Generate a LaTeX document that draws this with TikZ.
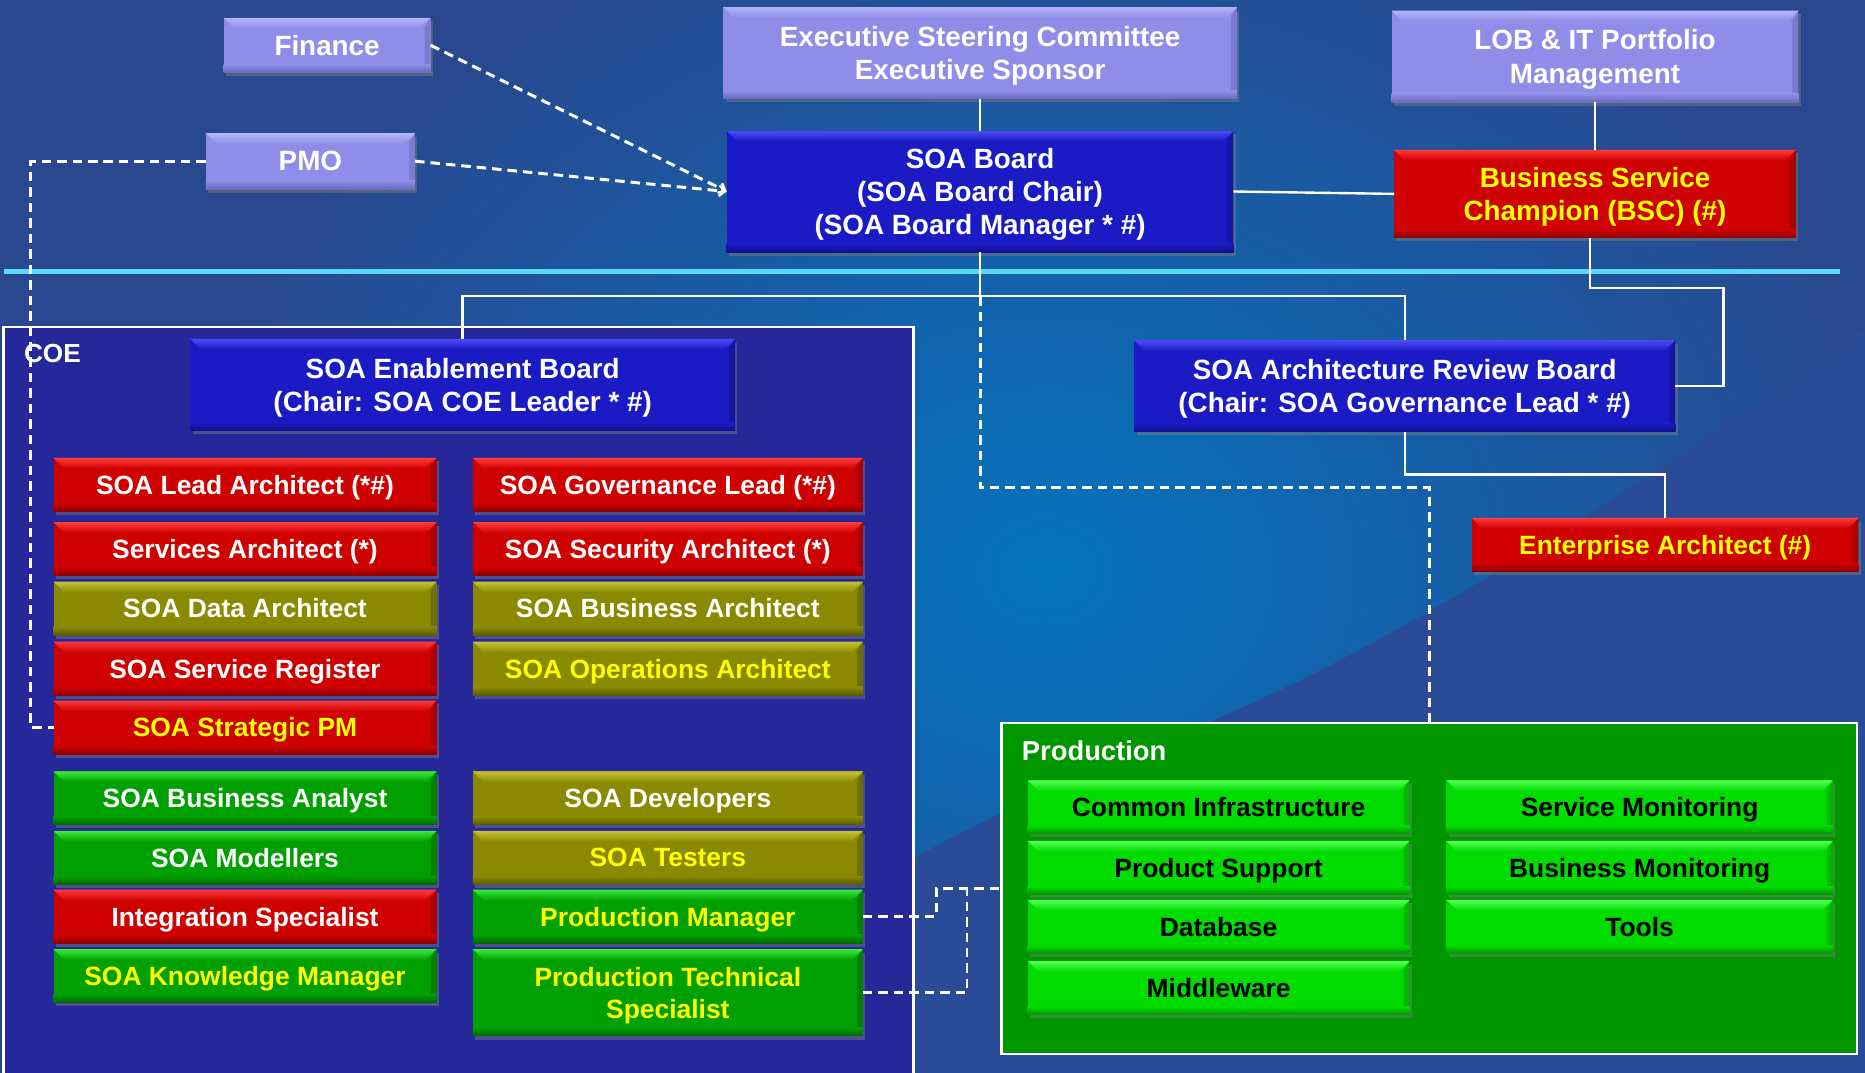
\documentclass[tikz,border=0pt]{standalone}
\usepackage{fontspec}
\setmainfont{Liberation Sans}
\usetikzlibrary{shadows,arrows.meta}

% background and frame colours
\definecolor{bgbase}{HTML}{29488F}
\definecolor{bglight}{HTML}{0474BD}
\definecolor{bgwedge}{HTML}{2A4C96}
\definecolor{cyanline}{HTML}{5AD8F6}
\definecolor{coefill}{HTML}{26289A}
\definecolor{prodfill}{HTML}{009600}
\definecolor{yel}{HTML}{FFFF00}
% box colours: fill / top bevel / bottom edge
\definecolor{lavfill}{HTML}{8E8EE8}\definecolor{lavtop}{HTML}{B4B4FC}\definecolor{lavbot}{HTML}{6A6AC0}
\definecolor{brdfill}{HTML}{1B1BC6}\definecolor{brdtop}{HTML}{4C4CF6}\definecolor{brdbot}{HTML}{10108A}
\definecolor{redfill}{HTML}{CF0000}\definecolor{redtop}{HTML}{FF3A3A}\definecolor{redbot}{HTML}{8A0000}
\definecolor{olvfill}{HTML}{8A8A00}\definecolor{olvtop}{HTML}{C4C434}\definecolor{olvbot}{HTML}{5A5A00}
\definecolor{grnfill}{HTML}{00A000}\definecolor{grntop}{HTML}{3CEA3C}\definecolor{grnbot}{HTML}{006600}
\definecolor{limfill}{HTML}{00DC00}\definecolor{limtop}{HTML}{55FF55}\definecolor{limbot}{HTML}{009A00}

\newcommand\tbfont{\fontsize{23.4}{28}\selectfont\bfseries}
\newcommand\cbfont{\fontsize{22.2}{27}\selectfont\bfseries}

\tikzset{
  bevel/.style n args={3}{fill=#1, path picture={
      % darker right edge
      \fill[#3, opacity=0.55]
        (path picture bounding box.north east) -- (path picture bounding box.south east)
        -- ([xshift=-5pt,yshift=6pt]path picture bounding box.south east)
        -- ([xshift=-5pt,yshift=-8pt]path picture bounding box.north east) -- cycle;
      % darker bottom edge
      \shade[top color=#1, bottom color=#3]
        ([yshift=7pt]path picture bounding box.south west) -- ([yshift=7pt]path picture bounding box.south east)
        -- (path picture bounding box.south east) -- (path picture bounding box.south west) -- cycle;
      % light top bevel
      \shade[top color=#2, bottom color=#1]
        (path picture bounding box.north west) -- (path picture bounding box.north east)
        -- ([xshift=-9pt,yshift=-9pt]path picture bounding box.north east)
        -- ([xshift=9pt,yshift=-9pt]path picture bounding box.north west) -- cycle;
    }},
  box/.style={rectangle, inner sep=0pt, outer sep=0pt, align=center, text=white, font=\cbfont,
    text depth=0pt, drop shadow={shadow xshift=2pt, shadow yshift=-3pt, opacity=0.45}},
  lav/.style={box, bevel={lavfill}{lavtop}{lavbot}, font=\tbfont},
  brd/.style={box, bevel={brdfill}{brdtop}{brdbot}, font=\tbfont},
  redb/.style={box, bevel={redfill}{redtop}{redbot}},
  olvb/.style={box, bevel={olvfill}{olvtop}{olvbot}},
  grnb/.style={box, bevel={grnfill}{grntop}{grnbot}},
  limb/.style={box, bevel={limfill}{limtop}{limbot}, text=black},
  yt/.style={text=yel},
  colA/.style={minimum width=322pt, minimum height=45pt},
  colB/.style={minimum width=328pt, minimum height=45pt},
  colP/.style={minimum width=321pt, minimum height=45pt},
  colQ/.style={minimum width=325pt, minimum height=45pt},
  frame/.style={draw=white, line width=2pt, inner sep=0pt, outer sep=0pt},
  conn/.style={draw=white, line width=2pt},
  dconn/.style={draw=white, line width=2.5pt, dash pattern=on 8pt off 5pt},
  arr/.style={-{Straight Barb[length=5pt,width=9pt,line width=2pt]}},
}

\begin{document}
\begin{tikzpicture}[x=1pt,y=-1pt]
\useasboundingbox (0,0) rectangle (1568,902);
\clip (0,0) rectangle (1568,902);

% background
\fill[bgbase] (0,0) rectangle (1568,902);
\shade[inner color=bglight, outer color=bgbase] (880,480) ellipse (730pt and 600pt);
\fill[bgwedge] (1568,276) .. controls (1420,380) and (1200,530) .. (1021,605)
  .. controls (930,645) and (840,680) .. (768,722) -- (768,902) -- (1568,902) -- cycle;
\draw[cyanline, line width=4.5pt] (3,228) -- (1547,228);

% containers
\node[frame, fill=coefill, anchor=north west, minimum width=765pt, minimum height=660pt] (coe) at (3,275) {};
\node[anchor=west, text=white, font=\fontsize{22}{26}\selectfont\bfseries, inner sep=0pt] (coelbl) at (20,297) {COE};
\node[frame, fill=prodfill, minimum width=719pt, minimum height=278pt] (prod) at (1201.5,747) {};
\node[anchor=west, text=white, font=\fontsize{23}{27}\selectfont\bfseries, inner sep=0pt] (prodlbl) at (859,631) {Production};

% top level
\node[lav, minimum width=174pt, minimum height=46pt] (finance) at (275,38) {Finance};
\node[lav, minimum width=176pt, minimum height=47pt] (pmo) at (261,135.5) {PMO};
\node[lav, minimum width=432pt, minimum height=77pt] (exec) at (824,44.5) {Executive Steering Committee\\Executive Sponsor};
\node[lav, minimum width=342pt, minimum height=77pt] (lob) at (1341,47.5) {LOB \& IT Portfolio\\Management};
\node[brd, minimum width=426pt, minimum height=102pt] (board) at (824,161) {SOA Board\\(SOA Board Chair)\\(SOA Board Manager * \#)};
\node[redb, yt, font=\tbfont, minimum width=338pt, minimum height=74pt] (bsc) at (1341,163) {Business Service\\Champion (BSC) (\#)};

% boards
\node[brd, minimum width=458pt, minimum height=77pt] (enb) at (389,323.5) {SOA Enablement Board\\(Chair: SOA COE Leader * \#)};
\node[brd, minimum width=455pt, minimum height=77pt] (arb) at (1181,324.5) {SOA Architecture Review Board\\(Chair: SOA Governance Lead * \#)};
\node[redb, yt, minimum width=325pt, minimum height=45pt] (ea) at (1400,458) {Enterprise Architect (\#)};

% COE roles, left column
\node[redb, colA] (lead) at (206,407.5) {SOA Lead Architect (*\#)};
\node[redb, colA] (svc) at (206,461.5) {Services Architect (*)};
\node[olvb, colA] (data) at (206,511.5) {SOA Data Architect};
\node[redb, colA] (reg) at (206,562) {SOA Service Register};
\node[redb, colA, yt] (spm) at (206,611.5) {SOA Strategic PM};
\node[grnb, colA] (ba) at (206,671) {SOA Business Analyst};
\node[grnb, colA] (mod) at (206,721) {SOA Modellers};
\node[redb, colA] (integ) at (206,770.5) {Integration Specialist};
\node[grnb, colA, yt] (km) at (206,820.5) {SOA Knowledge Manager};

% COE roles, right column
\node[redb, colB] (gov) at (561.5,407.5) {SOA Governance Lead (*\#)};
\node[redb, colB] (sec) at (561.5,461.5) {SOA Security Architect (*)};
\node[olvb, colB] (barch) at (561.5,511.5) {SOA Business Architect};
\node[olvb, colB, yt] (ops) at (561.5,562) {SOA Operations Architect};
\node[olvb, colB] (dev) at (561.5,671) {SOA Developers};
\node[olvb, colB, yt] (test) at (561.5,721) {SOA Testers};
\node[grnb, colB, yt] (pm) at (561.5,770.5) {Production Manager};
\node[grnb, yt, minimum width=328pt, minimum height=73pt] (pts) at (561.5,834.5) {Production Technical\\Specialist};

% production units
\node[limb, colP] (ci) at (1024.5,678.5) {Common Infrastructure};
\node[limb, colP] (ps) at (1024.5,729.5) {Product Support};
\node[limb, colP] (db) at (1024.5,779) {Database};
\node[limb, colP] (mw) at (1024.5,830.5) {Middleware};
\node[limb, colQ] (sm) at (1378.5,678.5) {Service Monitoring};
\node[limb, colQ] (bm) at (1378.5,729.5) {Business Monitoring};
\node[limb, colQ] (tools) at (1378.5,779) {Tools};

% connector bends
\coordinate (bj) at (824,249);
\coordinate (dk) at (824,410);
\coordinate (bsr) at (1449,242);
\coordinate (pl) at (26,135.5);
\coordinate (pj) at (787,747);
\coordinate (pk) at (813,747);

% reporting lines
\draw[conn] (exec.south) -- (board.north);
\draw[conn] (lob.south) -- (bsc.north);
\draw[conn] (board.east) -- (bsc.west);
\draw[conn] (board.south) -- (bj);
\draw[conn] (enb.north) |- (bj) -| (arb.north);
\draw[conn] ([xshift=-4pt]bsc.south) |- (bsr) |- (arb.east);
\draw[conn] (arb.south) -- ++(0,36) -| (ea.north);

% dotted-line relationships
\draw[dconn] (bj) -- (dk) -| (prod.north);
\draw[dconn, arr] (finance.east) -- (board.west);
\draw[dconn, arr] (pmo.east) -- (board.west);
\draw[dconn] (pmo.west) -- (pl) |- (spm.west);
\draw[dconn] (pm.east) -| (pj) -- (prod.west);
\draw[dconn] (pts.east) -| (pk);
\end{tikzpicture}
\end{document}
